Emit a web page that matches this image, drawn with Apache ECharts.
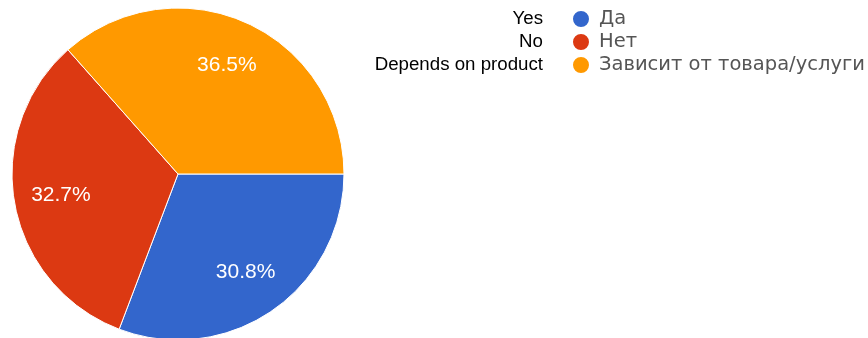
<!DOCTYPE html>
<html>
<head>
<meta charset="utf-8">
<script src="https://cdn.jsdelivr.net/npm/echarts@6/dist/echarts.min.js"></script>
<style>
html,body{margin:0;padding:0;background:#fff;}
#chart{width:868px;height:338px;}
</style>
</head>
<body>
<div id="chart"></div>
<script>
var categories = ['Да', 'Нет', 'Зависит от товара/услуги'];
var counts = [16, 17, 19];
var englishLabels = ['Yes', 'No', 'Depends on product'];
var colors = ['#3366cc', '#dc3912', '#ff9900'];

var chart = echarts.init(document.getElementById('chart'), null, {renderer: 'canvas'});
var data = categories.map(function (c, i) {
  return {name: c, value: counts[i], itemStyle: {color: colors[i]}};
});
var FONT = '"Liberation Sans", Arial, sans-serif';
var rowY = [17, 40, 63];
chart.setOption({
  animation: false,
  legend: {
    orient: 'vertical',
    left: 566,
    top: 4,
    icon: 'circle',
    itemWidth: 18,
    itemHeight: 18,
    itemGap: 3,
    data: categories,
    textStyle: {fontFamily: '"DejaVu Sans", sans-serif', fontSize: 19.5, lineHeight: 18, color: '#555', padding: [0, 0, 0, 4]}
  },
  graphic: englishLabels.map(function (t, i) {
    return {
      type: 'text',
      right: 868 - 543,
      top: rowY[i] - 8,
      style: {text: t, font: '18.7px ' + FONT, fill: '#000', textAlign: 'right'}
    };
  }),
  series: [
    {
      type: 'pie',
      center: [178, 174],
      radius: [0, 166],
      startAngle: 0,
      clockwise: true,
      percentPrecision: 1,
      data: data,
      label: {show: false},
      labelLine: {show: false},
      itemStyle: {borderColor: '#fff', borderWidth: 1},
      emphasis: {disabled: true}
    },
    {
      type: 'pie',
      center: [178, 174],
      radius: [66, 166],
      startAngle: 0,
      clockwise: true,
      percentPrecision: 1,
      silent: true,
      legendHoverLink: false,
      data: categories.map(function (c, i) { return {name: c, value: counts[i], itemStyle: {color: 'rgba(0,0,0,0)'}}; }),
      itemStyle: {borderWidth: 0},
      label: {
        show: true,
        position: 'inside',
        formatter: '{d}%',
        color: '#fff',
        fontFamily: FONT,
        fontSize: 21
      },
      labelLine: {show: false},
      emphasis: {disabled: true}
    }
  ]
});
</script>
</body>
</html>
